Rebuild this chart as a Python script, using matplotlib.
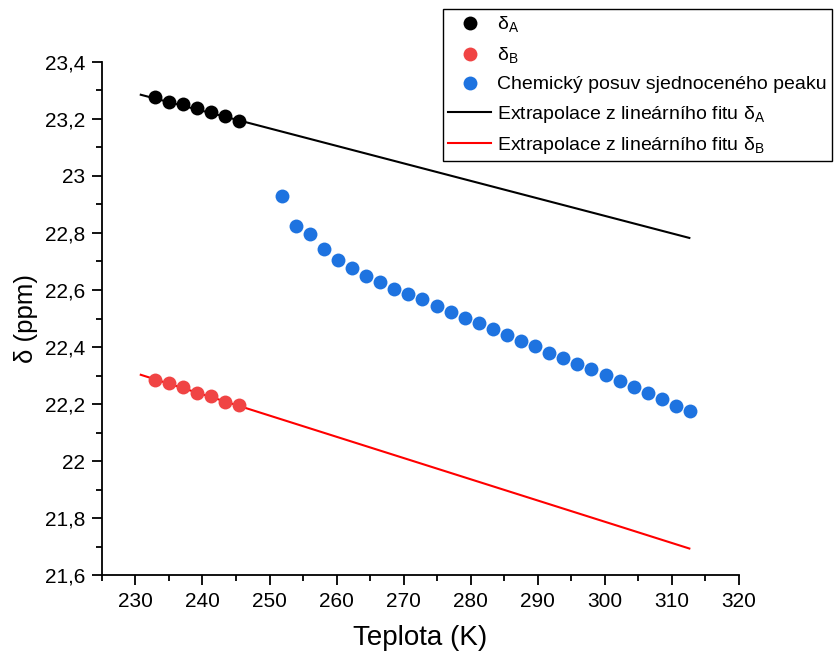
import numpy as np
import matplotlib
matplotlib.use("Agg")
import matplotlib.pyplot as plt
from matplotlib.ticker import MultipleLocator, FuncFormatter

plt.rcParams["font.family"] = ["Liberation Sans", "DejaVu Sans"]
plt.rcParams["mathtext.fontset"] = "custom"
plt.rcParams["mathtext.rm"] = "Liberation Sans"

# teploty (K)
T_A = [232.9, 235.0, 237.1, 239.2, 241.3, 243.4, 245.5]
T_B = [232.9, 235.0, 237.1, 239.2, 241.3, 243.4, 245.5]
T_sj = [251.8, 253.9, 256.0, 258.1, 260.2, 262.3, 264.4, 266.5, 268.6, 270.7,
        272.8, 274.9, 277.0, 279.1, 281.2, 283.3, 285.4, 287.5, 289.6, 291.7,
        293.8, 295.9, 298.0, 300.1, 302.2, 304.3, 306.4, 308.5, 310.6, 312.7]

# chemicke posuny (ppm)
d_A = [23.276, 23.261, 23.252, 23.238, 23.224, 23.210, 23.194]
d_B = [22.285, 22.272, 22.259, 22.240, 22.227, 22.207, 22.196]
d_sj = [22.931, 22.826, 22.796, 22.743, 22.705, 22.676, 22.648, 22.629, 22.604, 22.585,
        22.567, 22.545, 22.522, 22.503, 22.484, 22.463, 22.442, 22.422, 22.405, 22.380,
        22.361, 22.339, 22.322, 22.301, 22.280, 22.260, 22.240, 22.218, 22.194, 22.174]

# linearni fity (smernice, usek) a rozsah extrapolace
fit_A = [-0.00614, 24.702]
fit_B = [-0.00745, 24.022]
T_extra = [230.8, 312.6]

T_line = np.array(T_extra)

fig = plt.figure(figsize=(8.35, 6.52), dpi=100)
ax = fig.add_axes([0.122, 0.118, 0.763, 0.787])

ax.plot(T_line, np.polyval(fit_A, T_line), color="black", lw=1.5, zorder=1,
        label=r"Extrapolace z lineárního fitu δ$_\mathrm{A}$")
ax.plot(T_line, np.polyval(fit_B, T_line), color="#FF0000", lw=1.5, zorder=1,
        label=r"Extrapolace z lineárního fitu δ$_\mathrm{B}$")
ax.plot(T_A, d_A, "o", color="black", ms=10, mec="none", zorder=2, label=r"δ$_\mathrm{A}$")
ax.plot(T_B, d_B, "o", color="#F04444", ms=10, mec="none", zorder=2, label=r"δ$_\mathrm{B}$")
ax.plot(T_sj, d_sj, "o", color="#1E73E0", ms=10, mec="none", zorder=2,
        label="Chemický posuv sjednoceného peaku")

ax.set_xlim(225, 320)
ax.set_ylim(21.6, 23.4)
ax.xaxis.set_major_locator(MultipleLocator(10))
ax.xaxis.set_minor_locator(MultipleLocator(5))
ax.yaxis.set_major_locator(MultipleLocator(0.2))
ax.yaxis.set_minor_locator(MultipleLocator(0.1))
ax.yaxis.set_major_formatter(FuncFormatter(lambda v, p: ("%g" % round(v, 2)).replace(".", ",")))

for s in ["top", "right"]:
    ax.spines[s].set_visible(False)
for s in ["left", "bottom"]:
    ax.spines[s].set_linewidth(1.3)
ax.tick_params(which="major", direction="out", length=7, width=1.3, labelsize=15, pad=5)
ax.tick_params(which="minor", direction="out", length=4, width=1.3)

ax.set_xlabel("Teplota (K)", fontsize=20, labelpad=10)
ax.set_ylabel("δ (ppm)", fontsize=18.5, labelpad=5)

h, l = ax.get_legend_handles_labels()
order = [2, 3, 4, 0, 1]
leg = fig.legend([h[i] for i in order], [l[i] for i in order],
                 loc="upper right", bbox_to_anchor=(0.997, 0.986), fontsize=14,
                 frameon=True, fancybox=False, edgecolor="black", framealpha=1,
                 handlelength=2.2, borderpad=0.3, labelspacing=0.52, handletextpad=0.3,
                 borderaxespad=0)
leg.get_frame().set_linewidth(1.0)

plt.savefig("out.png")
